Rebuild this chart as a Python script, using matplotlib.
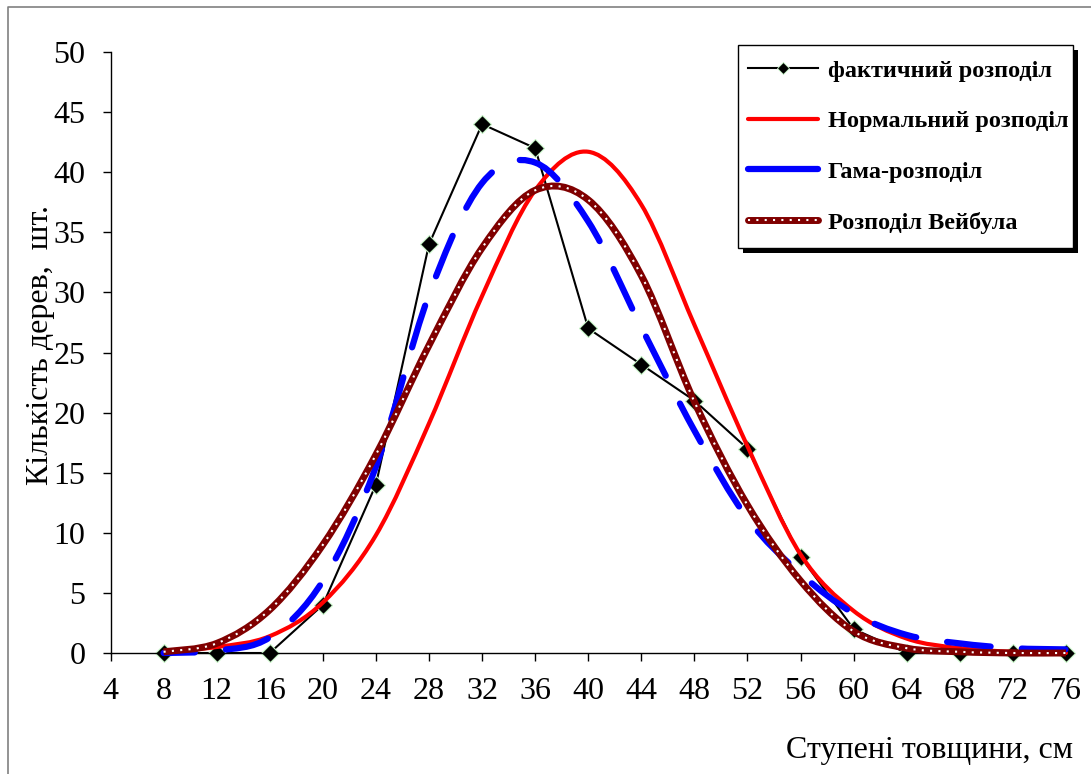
import numpy as np
import matplotlib
matplotlib.use("Agg")
import matplotlib.pyplot as plt
from matplotlib.path import Path
from matplotlib.patches import PathPatch, Rectangle
from matplotlib.lines import Line2D

# diameter classes, cm
steps = [8, 12, 16, 20, 24, 28, 32, 36, 40, 44, 48, 52, 56, 60, 64, 68, 72, 76]

# tree counts
actual  = [0, 0, 0, 4, 14, 34, 44, 42, 27, 24, 21, 17, 8, 2, 0, 0, 0, 0]
normal  = [0.1, 0.5, 1.4, 4.2, 9.8, 19.1, 29.7, 38.5, 41.7, 37.3, 27.3, 17.2, 8.2, 3.5, 1.2, 0.4, 0.1, 0.0]
gamma   = [0.0, 0.2, 1.3, 6.0, 15.5, 29.8, 39.1, 40.8, 35.9, 27.1, 18.5, 11.2, 6.6, 3.3, 1.5, 0.8, 0.4, 0.3]
weibull = [0.1, 0.8, 3.6, 9.0, 16.5, 25.6, 33.7, 38.5, 37.7, 31.4, 20.9, 12.3, 6.0, 1.8, 0.4, 0.1, 0.0, 0.0]

labels = ["фактичний розподіл", "Нормальний розподіл", "Гама-розподіл", "Розподіл Вейбула"]
xticks = list(range(4, 77, 4))
yticks = list(range(0, 51, 5))

W, H = 1091, 774
serif = ["Liberation Serif", "DejaVu Serif"]


def smooth_path(xs, ys):
    # excel-like smoothed line: bezier segments through every point
    pts = np.column_stack([xs, ys]).astype(float)
    pad = np.vstack([pts[0], pts, pts[-1]])
    verts = [pts[0]]
    codes = [Path.MOVETO]
    for i in range(len(pts) - 1):
        p0, p1, p2, p3 = pad[i], pad[i + 1], pad[i + 2], pad[i + 3]
        verts += [p1 + (p2 - p0) / 6, p2 - (p3 - p1) / 6, p2]
        codes += [Path.CURVE4] * 3
    return Path(verts, codes)


fig = plt.figure(figsize=(W / 100, H / 100), dpi=100)
ax = fig.add_axes([110.5 / W, 1 - 653 / H, (1066 - 110.5) / W, (653 - 52) / H])

# actual distribution
ax.plot(steps, actual, color="black", lw=1.5, marker="D", ms=9,
        mfc="black", mec="#c8f5c8", mew=0.8, clip_on=False, zorder=2)

# normal
ax.add_patch(PathPatch(smooth_path(steps, normal), fill=False, ec="#ff0000",
                       lw=3, capstyle="round", zorder=3, clip_on=False))
# gamma
ax.add_patch(PathPatch(smooth_path(steps, gamma), fill=False, ec="#0000ff",
                       lw=4.5, ls=(2, (7, 5)), capstyle="round", zorder=4, clip_on=False))
# weibull
ax.add_patch(PathPatch(smooth_path(steps, weibull), fill=False, ec="#800000",
                       lw=5, zorder=5, clip_on=False))
ax.add_patch(PathPatch(smooth_path(steps, weibull), fill=False, ec="white",
                       lw=1.5, ls=(0, (1, 3)), zorder=6, clip_on=False))

ax.set_xlim(4, 76)
ax.set_ylim(0, 50)
ax.set_xticks(xticks)
ax.set_yticks(yticks)
for s in ["top", "right"]:
    ax.spines[s].set_visible(False)
for s in ["left", "bottom"]:
    ax.spines[s].set_linewidth(1)
ax.tick_params(axis="both", direction="out", length=6, width=1, labelsize=23)
ax.tick_params(axis="y", pad=12)
ax.tick_params(axis="x", pad=11)
for t in ax.get_xticklabels() + ax.get_yticklabels():
    t.set_fontfamily(serif)

fig.text(41 / W, 1 - 345 / H, "Кількість дерев,  шт.", rotation=90, ha="center",
         va="center", fontsize=23, family=serif)
fig.text(1073 / W, 1 - 758 / H, "Ступені товщини, см", ha="right", va="baseline",
         fontsize=23, family=serif)

# legend with proxy handles
h_act = Line2D([], [], color="black", lw=1.5, marker="D", ms=6, mfc="black", mec="#c8f5c8", mew=0.6)
h_norm = Line2D([], [], color="#ff0000", lw=3, solid_capstyle="round")
h_gam = Line2D([], [], color="#0000ff", lw=4.5, solid_capstyle="round")
h_wb = (Line2D([], [], color="#800000", lw=5, solid_capstyle="round"),
        Line2D([], [], color="white", lw=1.5, ls=(0, (1, 3))))
leg = ax.legend([h_act, h_norm, h_gam, h_wb], labels, loc="upper left",
                bbox_to_anchor=(733 / W, 1 - 45 / H), bbox_transform=fig.transFigure,
                prop={"family": serif, "weight": "bold", "size": 17.5},
                frameon=False, borderpad=0.6, labelspacing=1.18, handlelength=2.9,
                handletextpad=0.4, borderaxespad=0, numpoints=1)
leg.set_zorder(10)

# legend box and its hard black shadow, drawn under the (transparent) axes
fig.canvas.draw()
bb = leg.get_window_extent()
ax.patch.set_visible(False)
bx0, bx1 = bb.x0 + 5, bb.x1 - 10
fig.add_artist(Rectangle(((bx0 + 5) / W, (bb.y0 - 5) / H), (bx1 - bx0) / W, bb.height / H,
                         transform=fig.transFigure, fc="black", ec="none", zorder=-2))
fig.add_artist(Rectangle((bx0 / W, bb.y0 / H), (bx1 - bx0) / W, bb.height / H,
                         transform=fig.transFigure, fc="white", ec="black", lw=1, zorder=-1))

# chart area frame
fig.add_artist(Line2D([7.5 / W, 7.5 / W, 1], [0, 1 - 6.5 / H, 1 - 6.5 / H],
                      transform=fig.transFigure, color="#808080", lw=1.2))

fig.savefig("out.png", dpi=100)
